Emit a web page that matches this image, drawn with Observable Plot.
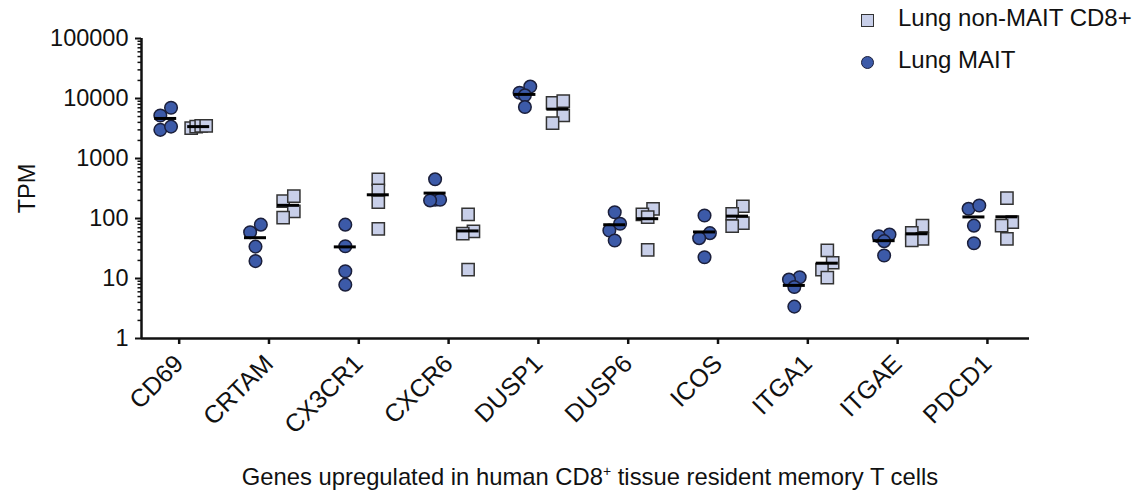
<!DOCTYPE html>
<html>
<head>
<meta charset="utf-8">
<script src="https://cdn.jsdelivr.net/npm/d3@7"></script>
<script src="https://cdn.jsdelivr.net/npm/@observablehq/plot@0.6"></script>
<style>
  body { margin: 0; background: #fff; font-family: "Liberation Sans", Arial, Helvetica, sans-serif; }
  #wrap { position: relative; width: 1137px; height: 493px; overflow: hidden; }
  #chart { position: absolute; left: 0; top: 0; }
  .lg-text { position: absolute; font-size: 24px; line-height: 26px; color: #111; white-space: nowrap; }
  .lg-sq { position: absolute; box-sizing: border-box; width: 13px; height: 13px; background: #c8cfe9; border: 1.5px solid #333; }
  .lg-ci { position: absolute; box-sizing: border-box; width: 13px; height: 13px; border-radius: 50%; background: #3c5aa8; border: 1.5px solid #1b1f3b; }
  #xtitle { position: absolute; top: 465px; left: 590px; transform: translateX(-50%); font-size: 23.8px; line-height: 23.8px; white-space: nowrap; color: #111; }
  #xtitle sup { font-size: 14px; vertical-align: 9px; line-height: 0; }
</style>
</head>
<body>
<div id="wrap">
  <div id="chart"></div>
  <div class="lg-sq" style="left:861px; top:14px;"></div>
  <div class="lg-text" id="lg1" style="left:898px; top:5px;"></div>
  <div class="lg-ci" style="left:861px; top:56px;"></div>
  <div class="lg-text" id="lg2" style="left:898px; top:47px;"></div>
  <div id="xtitle">Genes upregulated in human CD8<sup>+</sup> tissue resident memory T cells</div>
</div>
<script>
// ---------------- data ----------------
const genes = ["CD69", "CRTAM", "CX3CR1", "CXCR6", "DUSP1", "DUSP6", "ICOS", "ITGA1", "ITGAE", "PDCD1"];
const seriesNames = ["Lung MAIT", "Lung non-MAIT CD8+"];
const yTickValues = [1, 10, 100, 1000, 10000, 100000];
const yLabel = "TPM";

// TPM per gene (4 donors each)
const maitTPM = [
  [5200, 7000, 3000, 3400],
  [59, 79, 34, 19.5],
  [79, 34.5, 13.2, 7.9],
  [450, 205, 205, 200],
  [15800, 12500, 11300, 7200],
  [127, 81.6, 63, 43],
  [112, 57, 47, 22.6],
  [10.5, 9.6, 7.2, 3.4],
  [54, 50.7, 41.9, 24.2],
  [145, 165, 76, 38.7]
];
const nonMaitTPM = [
  [3200, 3400, 3500, 3500],
  [194, 235, 131, 103],
  [447, 293, 187, 67],
  [117, 61, 56, 14.1],
  [8470, 9020, 5210, 3870],
  [145, 117, 105, 30],
  [160, 120, 83.5, 74.5],
  [29.3, 18.3, 14.1, 10.3],
  [76, 57.8, 45.9, 43],
  [218, 86.8, 76, 45.9]
];

// ---------------- layout ----------------
const W = 1137, H = 493;
const mL = 141, mR = 108, mT = 38, mB = 155;
const xDomain = [-0.453, 9.435];
const yDomain = [1, 100000];
const pxPerUnit = (W - mL - mR) / (xDomain[1] - xDomain[0]);
const pxPerDecade = (H - mT - mB) / Math.log10(yDomain[1] / yDomain[0]);
const groupOffsetPx = 16.5;
const halfLinePx = 11;

// simple GraphPad-like scatter spreading of points with similar values
function spread(values, center) {
  const idx = values.map((v, i) => i).sort((a, b) => values[b] - values[a]);
  const rows = [];
  for (const i of idx) {
    const py = -Math.log10(values[i]) * pxPerDecade;
    const row = rows[rows.length - 1];
    const limit = row && row.items.length === 1 ? 9 : 6;
    if (row && py - row.start < limit) row.items.push(i);
    else rows.push({start: py, items: [i]});
  }
  const xs = new Array(values.length);
  for (const row of rows) {
    const k = row.items.length;
    const step = k === 2 ? 10.7 : 5;
    const ordered = row.items.slice().sort((a, b) => values[a] - values[b]);
    ordered.forEach((i, j) => {
      xs[i] = center + ((j - (k - 1) / 2) * step) / pxPerUnit;
    });
  }
  return xs;
}

const points = [];
const means = [];
genes.forEach((g, gi) => {
  [[maitTPM, 0], [nonMaitTPM, 1]].forEach(([arr, si]) => {
    const vals = arr[gi];
    const center = gi + (si === 0 ? -1 : 1) * groupOffsetPx / pxPerUnit;
    const xs = spread(vals, center);
    vals.forEach((v, k) => points.push({gene: g, series: seriesNames[si], value: v, x: xs[k]}));
    means.push({gene: g, series: seriesNames[si], center, mean: d3.mean(vals)});
  });
});

const minorTicks = [];
yTickValues.slice(0, -1).forEach(d => { for (let m = 2; m <= 9; m++) minorTicks.push(d * m); });

const font = "'Liberation Sans', Arial, Helvetica, sans-serif";

const chart = Plot.plot({
  width: W, height: H,
  marginLeft: mL, marginRight: mR, marginTop: mT, marginBottom: mB,
  style: {fontFamily: font, fontSize: "23px", color: "#111", background: "transparent", overflow: "visible"},
  x: {type: "linear", domain: xDomain},
  y: {type: "log", domain: yDomain},
  marks: [
    Plot.axisY(minorTicks, {tickSize: 3.5, tickFormat: () => "", label: null, strokeWidth: 1.5, stroke: "#111"}),
    Plot.axisY(yTickValues, {
      tickSize: 6, tickPadding: 7, tickFormat: d => String(d), fontSize: 23.5,
      strokeWidth: 2, stroke: "#111", fill: "#111",
      label: yLabel, labelAnchor: "center", labelOffset: 123, labelArrow: "none"
    }),
    Plot.axisX(d3.range(genes.length), {
      tickSize: 6, tickPadding: 15, tickRotate: -45, tickFormat: i => genes[i], dx: -3,
      fontSize: 25, strokeWidth: 2.5, stroke: "#111", fill: "#111", label: null
    }),
    Plot.ruleY([yDomain[0]], {stroke: "#111", strokeWidth: 2.5}),
    Plot.ruleX([xDomain[0]], {y1: yDomain[0], y2: yDomain[1], stroke: "#111", strokeWidth: 2.5}),
    Plot.dot(points.filter(d => d.series === seriesNames[1]), {
      x: "x", y: "value", symbol: "square", r: 6.9,
      fill: "#c8cfe9", stroke: "#333", strokeWidth: 1.5
    }),
    Plot.dot(points.filter(d => d.series === seriesNames[0]), {
      x: "x", y: "value", symbol: "circle", r: 6.3,
      fill: "#3c5aa8", stroke: "#1b1f3b", strokeWidth: 1.5
    }),
    Plot.ruleY(means, {
      y: "mean",
      x1: d => d.center - halfLinePx / pxPerUnit,
      x2: d => d.center + halfLinePx / pxPerUnit,
      stroke: "#000", strokeWidth: 3
    })
  ]
});

document.getElementById("chart").appendChild(chart);
document.getElementById("lg1").textContent = seriesNames[1];
document.getElementById("lg2").textContent = seriesNames[0];
</script>
</body>
</html>
